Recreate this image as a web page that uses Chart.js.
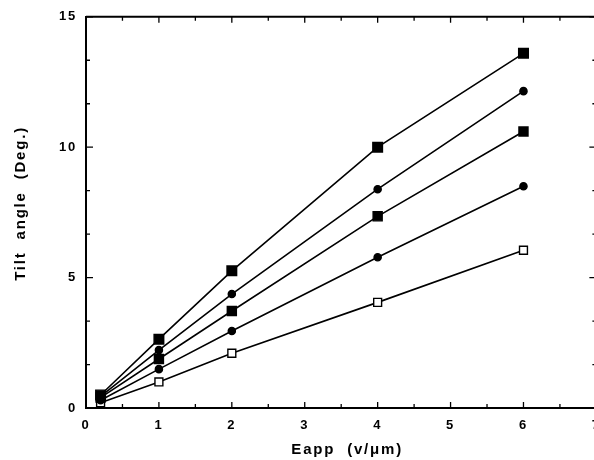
<!DOCTYPE html>
<html>
<head>
<meta charset="utf-8">
<script src="https://cdn.jsdelivr.net/npm/chart.js@4"></script>
<style>
  html, body { margin: 0; padding: 0; background: #fff; overflow: hidden; }
</style>
</head>
<body>
<canvas id="chart" width="610" height="460"></canvas>
<script>
// ===== Data =====
const fieldValues = [0.2, 1, 2, 4, 6];           // Eapp (v/um)
const tiltA = [0.5, 2.64, 5.26, 10.0, 13.6];     // filled square, top
const tiltB = [0.45, 2.22, 4.37, 8.39, 12.15];   // filled dot
const tiltC = [0.4, 1.88, 3.72, 7.35, 10.6];     // filled square
const tiltD = [0.3, 1.49, 2.95, 5.78, 8.5];      // filled dot
const tiltE = [0.2, 1.0, 2.1, 4.05, 6.05];       // open square
const xTicks = [0, 1, 2, 3, 4, 5, 6, 7];
const yTicks = [0, 5, 10, 15];

function pts(ys) {
  return fieldValues.map((x, i) => ({ x, y: ys[i] }));
}

function series(ys, style, r, fill) {
  return {
    data: pts(ys),
    showLine: true,
    borderColor: "#000",
    borderWidth: 1.6,
    pointStyle: style,
    pointRadius: r,
    pointBackgroundColor: fill,
    pointBorderColor: "#000",
    pointBorderWidth: 1.4,
    tension: 0
  };
}

// ===== Wider lettering, like the original typeset =====
const spacing = {
  id: "spacing",
  beforeDraw(chart) {
    chart.ctx.letterSpacing = "1.8px";
  }
};

// ===== Inward ticks + top/right frame =====
const frame = {
  id: "frame",
  afterDraw(chart) {
    const { ctx, chartArea: a, scales: { x, y } } = chart;
    ctx.save();
    ctx.strokeStyle = "#000";
    ctx.lineWidth = 2;
    ctx.beginPath();
    ctx.moveTo(a.left, a.top);
    ctx.lineTo(a.right, a.top);
    ctx.lineTo(a.right, a.bottom);
    ctx.stroke();

    ctx.lineWidth = 1.3;
    ctx.beginPath();
    for (let v = 0; v <= 7.001; v += 0.5) {
      const px = x.getPixelForValue(v);
      const len = Number.isInteger(v) ? 6 : 4;
      ctx.moveTo(px, a.bottom);
      ctx.lineTo(px, a.bottom - len);
      ctx.moveTo(px, a.top);
      ctx.lineTo(px, a.top + len);
    }
    for (let k = 0; k <= 9; k++) {
      const v = k * 5 / 3;
      const py = y.getPixelForValue(v);
      const len = k % 3 === 0 ? 7 : 4;
      ctx.moveTo(a.left, py);
      ctx.lineTo(a.left + len, py);
      ctx.moveTo(a.right, py);
      ctx.lineTo(a.right - len, py);
    }
    ctx.stroke();
    ctx.restore();
  }
};

const tickFont = { family: "'Liberation Sans', Arial, sans-serif", size: 13, weight: "bold" };
const titleFont = { family: "'Liberation Sans', Arial, sans-serif", size: 15, weight: "bold" };

new Chart(document.getElementById("chart"), {
  type: "scatter",
  data: {
    datasets: [
      series(tiltA, "rect", 6.8, "#000"),
      series(tiltB, "circle", 3.6, "#000"),
      series(tiltC, "rect", 6.4, "#000"),
      series(tiltD, "circle", 3.6, "#000"),
      series(tiltE, "rect", 5.6, "#fff")
    ]
  },
  options: {
    responsive: false,
    animation: false,
    layout: { padding: { left: 8, top: 16, right: 0, bottom: 0 } },
    plugins: { legend: { display: false }, tooltip: { enabled: false } },
    scales: {
      x: {
        type: "linear",
        min: 0,
        max: 7,
        afterBuildTicks: s => { s.ticks = xTicks.map(v => ({ value: v })); },
        afterFit: s => { s.height = 52; },
        grid: { drawOnChartArea: false, drawTicks: false },
        border: { display: true, color: "#000", width: 2 },
        ticks: { color: "#000", font: tickFont, padding: 10 },
        title: {
          display: true,
          text: "  Eapp  (v/\u03bcm)",
          color: "#000",
          font: titleFont,
          padding: { top: 0, bottom: 1 }
        }
      },
      y: {
        min: 0,
        max: 15,
        afterBuildTicks: s => { s.ticks = yTicks.map(v => ({ value: v })); },
        afterFit: s => { s.width = 78; },
        grid: { drawOnChartArea: false, drawTicks: false },
        border: { display: true, color: "#000", width: 2 },
        ticks: { color: "#000", font: tickFont, padding: 9 },
        title: {
          display: true,
          text: "   Tilt  angle  (Deg.)",
          color: "#000",
          font: titleFont,
          padding: { top: 4, bottom: 0 }
        }
      }
    }
  },
  plugins: [spacing, frame]
});
</script>
</body>
</html>
